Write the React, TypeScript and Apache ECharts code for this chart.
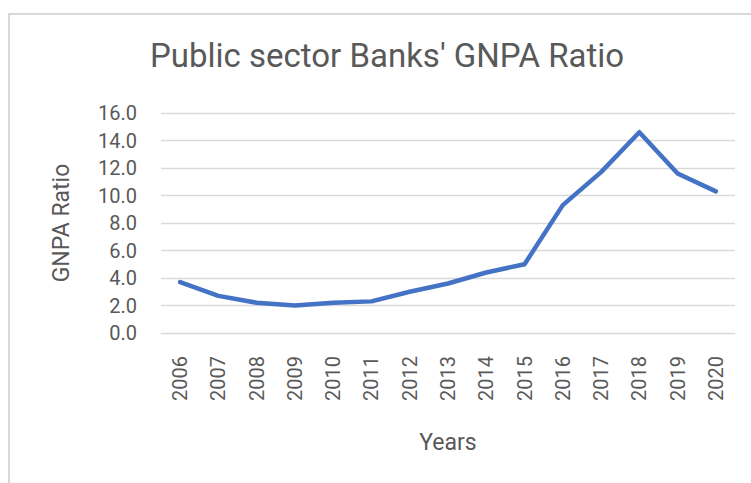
import React, { useEffect, useRef } from "react";
import * as echarts from "echarts";

const years: string[] = ["2006","2007","2008","2009","2010","2011","2012","2013","2014","2015","2016","2017","2018","2019","2020"];
const gnpaRatio: number[] = [3.7, 2.7, 2.2, 2.0, 2.2, 2.3, 3.0, 3.6, 4.4, 5.0, 9.3, 11.7, 14.6, 11.6, 10.3];
const yTicks = { min: 0, max: 16, interval: 2 };
const titleText = "Public sector Banks' GNPA Ratio";
const xName = "Years";
const yName = "GNPA Ratio";

const FONT = "Roboto, 'Noto Sans', sans-serif";
const TXT = "#595959";

export default function App() {
  const ref = useRef<HTMLDivElement>(null);
  useEffect(() => {
    if (!ref.current) return;
    const chart = echarts.init(ref.current, undefined, { renderer: "svg" });
    chart.setOption({
      animation: false,
      backgroundColor: "#ffffff",
      textStyle: { fontFamily: FONT },
      graphic: [
        {
          type: "rect",
          shape: { x: 9, y: 14, width: 800, height: 600 },
          style: { fill: "none", stroke: "#d9d9d9", lineWidth: 2 },
          silent: true,
        },
        {
          type: "text",
          x: 387,
          y: 55,
          style: {
            text: titleText,
            fontFamily: FONT,
            fontSize: 33,
            fill: TXT,
            align: "center",
            verticalAlign: "middle",
          },
        },
      ],
      grid: { left: 161, right: 16, top: 113, bottom: 150, containLabel: false },
      xAxis: {
        type: "category",
        data: years,
        boundaryGap: true,
        name: xName,
        nameLocation: "middle",
        nameGap: 98,
        nameTextStyle: { fontSize: 23, color: TXT, fontFamily: FONT },
        axisLine: { show: true, lineStyle: { color: "#d9d9d9", width: 1 } },
        axisTick: { show: false },
        axisLabel: { rotate: 90, fontSize: 20, color: TXT, margin: 23, fontFamily: FONT },
      },
      yAxis: {
        type: "value",
        min: yTicks.min,
        max: yTicks.max,
        interval: yTicks.interval,
        name: yName,
        nameLocation: "middle",
        nameGap: 88,
        nameTextStyle: { fontSize: 23, color: TXT, fontFamily: FONT },
        axisLine: { show: false },
        axisTick: { show: false },
        splitLine: { show: true, lineStyle: { color: "#d9d9d9", width: 1.3 } },
        axisLabel: {
          fontSize: 20,
          color: TXT,
          margin: 24,
          fontFamily: FONT,
          formatter: (v: number) => v.toFixed(1),
        },
      },
      series: [
        {
          type: "line",
          data: gnpaRatio,
          showSymbol: false,
          symbol: "none",
          lineStyle: { color: "#4472C4", width: 4.5, cap: "round", join: "round" },
          itemStyle: { color: "#4472C4" },
        },
      ],
    });
    return () => chart.dispose();
  }, []);
  return (
    <div
      ref={ref}
      style={{ position: "absolute", left: 0, top: 0, width: 751, height: 483 }}
    />
  );
}
